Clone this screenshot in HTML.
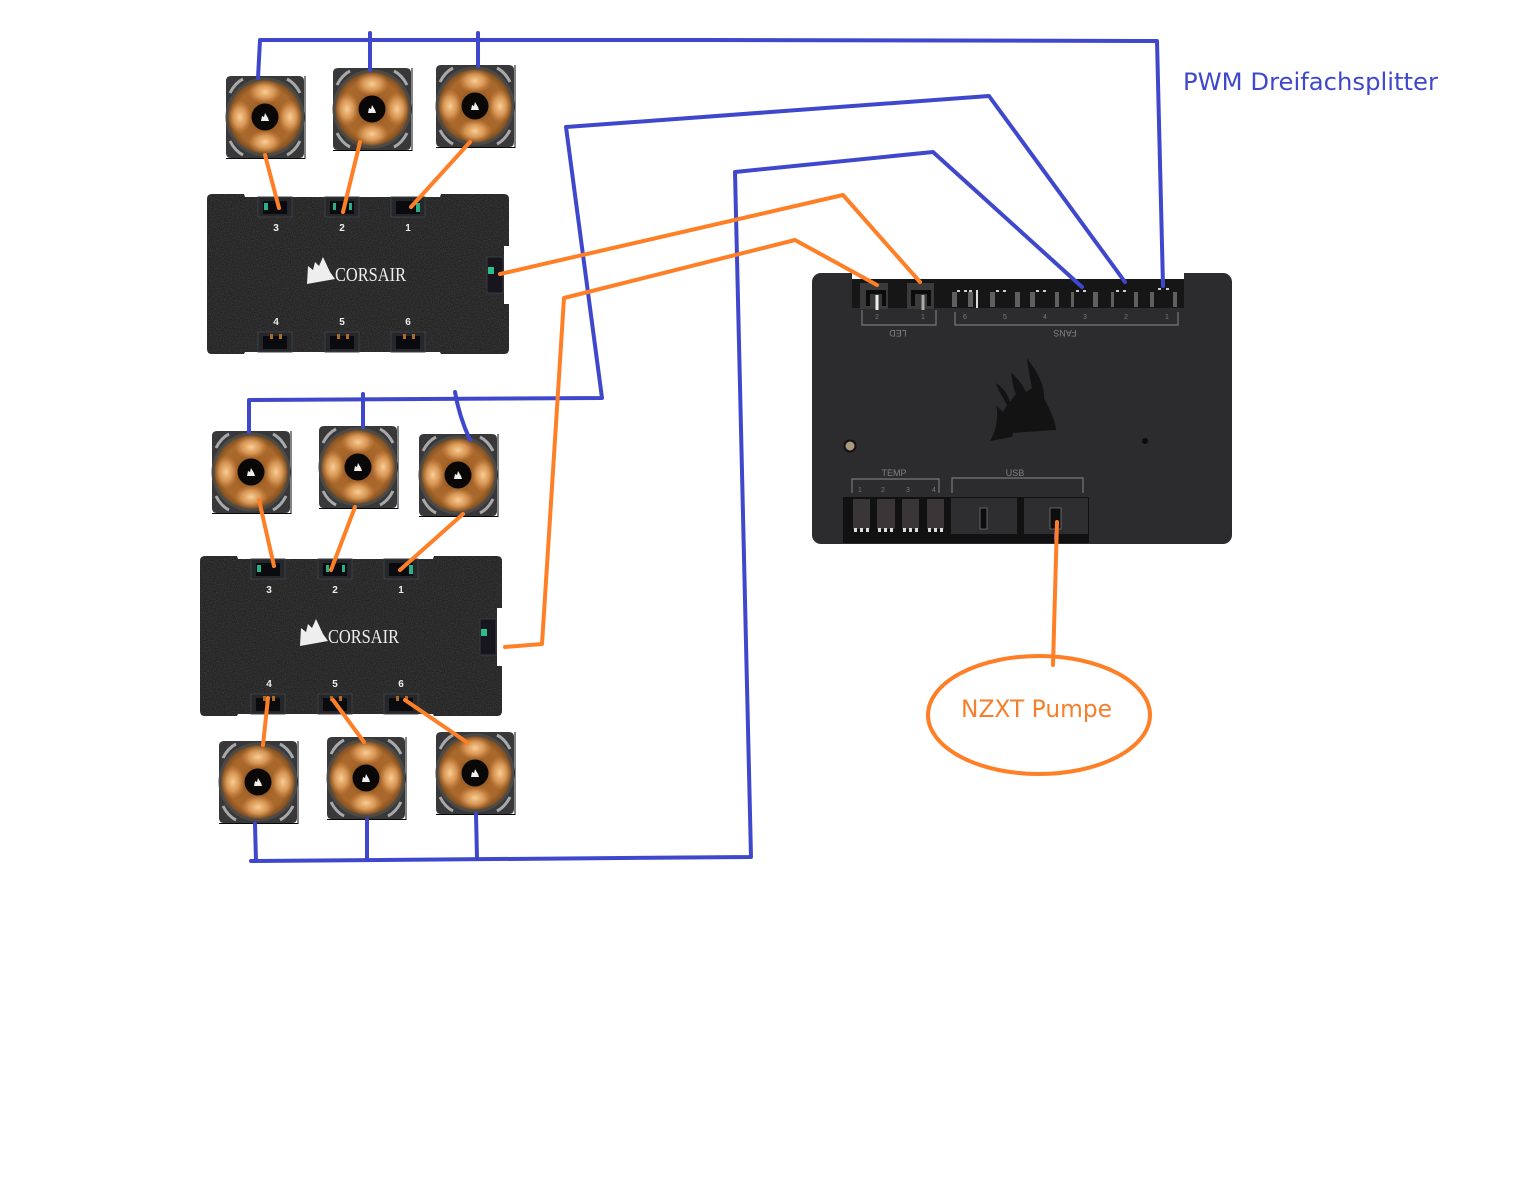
<!DOCTYPE html>
<html><head><meta charset="utf-8"><title>Diagram</title>
<style>html,body{margin:0;padding:0;background:#fff;width:1536px;height:1200px;overflow:hidden}svg{display:block}text{font-family:"Liberation Sans",sans-serif}</style></head>
<body>
<svg width="1536" height="1200" viewBox="0 0 1536 1200" xmlns="http://www.w3.org/2000/svg">
<defs>
<radialGradient id="ring" cx="50%" cy="50%" r="50%">
<stop offset="0" stop-color="#7d4a1c"/><stop offset=".5" stop-color="#a8662a"/><stop offset=".8" stop-color="#a9682c"/><stop offset=".95" stop-color="#875423"/><stop offset="1" stop-color="#604a36"/>
</radialGradient>
<radialGradient id="blade" cx="50%" cy="50%" r="50%">
<stop offset="0" stop-color="#fbcf98" stop-opacity="1"/><stop offset=".55" stop-color="#f0b06c" stop-opacity=".65"/><stop offset="1" stop-color="#d98f48" stop-opacity="0"/>
</radialGradient>
<filter id="grain" x="0" y="0" width="100%" height="100%">
<feTurbulence type="fractalNoise" baseFrequency="1.1" numOctaves="1" seed="3"/>
<feColorMatrix values="0 0 0 0 .22  0 0 0 0 .22  0 0 0 0 .22  0 0 0 .7 -.28"/>
<feComposite in2="SourceGraphic" operator="in"/>
</filter>
<g id="fan">
<path d="M-34-41H34Q39-41 39-36V36Q39 41 34 41H-34Q-39 41-39 36V-36Q-39-41-34-41Z" fill="#38383a"/>
<path d="M-39 41.500H40V-41" fill="none" stroke="#0a0a0a" stroke-width="1"/>
<path d="M-35-24Q-30-34-22-38M35-24Q30-34 22-38M-35 24Q-30 34-22 38M35 24Q30 34 22 38" fill="none" stroke="#a9a9a9" stroke-width="3"/>
<circle r="39.500" fill="#4c4a46"/>
<circle r="37" fill="url(#ring)"/>
<ellipse cx="0" cy="-25" rx="17" ry="12" fill="url(#blade)"/>
<ellipse cx="0" cy="25" rx="17" ry="12" fill="url(#blade)"/>
<ellipse cx="-25" cy="0" rx="12" ry="17" fill="url(#blade)"/>
<ellipse cx="25" cy="0" rx="12" ry="17" fill="url(#blade)"/>
<circle r="13.500" fill="#0a0807"/>
<path d="M-4 4L-3-1L-1 0L0-4L3 1L4 4Z" fill="#eee"/>
</g>
<g id="port">
<rect x="-17" y="-10" width="34" height="20" fill="#26272b" stroke="#3d3f42"/>
<rect x="-12" y="-6" width="24" height="13" fill="#0a0b0f"/>
</g>
<path id="hubshape" d="M5 0H37L38 3H233L234 0H297Q302 0 302 5V52H297V110H302V155Q302 160 297 160H234L233 158H38L37 160H5Q0 160 0 155V5Q0 0 5 0Z"/>
<g id="hub">
<use href="#hubshape" fill="#252526"/>
<use href="#hubshape" fill="#252526" filter="url(#grain)"/>
<rect x="280" y="63" width="16" height="36" fill="#17161e" stroke="#3a3a40"/>
<rect x="281" y="73" width="6" height="7" fill="#28c088"/>
<use href="#port" x="68" y="13"/><use href="#port" x="135" y="13"/><use href="#port" x="201" y="13"/>
<use href="#port" x="68" y="148"/><use href="#port" x="135" y="148"/><use href="#port" x="201" y="148"/>
<rect x="57" y="9" width="4" height="7" fill="#28b088"/><rect x="126" y="9" width="3" height="7" fill="#28b088"/><rect x="142" y="9" width="3" height="7" fill="#28b088"/><rect x="209" y="9" width="4" height="9" fill="#28b088"/>
<rect x="63" y="140" width="3" height="5" fill="#b06a20"/><rect x="72" y="140" width="3" height="5" fill="#b06a20"/><rect x="130" y="140" width="3" height="5" fill="#b06a20"/><rect x="139" y="140" width="3" height="5" fill="#b06a20"/><rect x="196" y="140" width="3" height="5" fill="#b06a20"/><rect x="205" y="140" width="3" height="5" fill="#b06a20"/>
<g fill="#eee" font-size="10" font-weight="700" text-anchor="middle">
<text x="69" y="37">3</text><text x="135" y="37">2</text><text x="201" y="37">1</text>
<text x="69" y="131">4</text><text x="135" y="131">5</text><text x="201" y="131">6</text>
</g>
<path d="M100 90L101 72L106 76L108 68L112 72L116 63L123 78L128 85Z" fill="#eee"/>
<text x="128" y="87" fill="#eee" font-size="20" style="font-family:'Liberation Serif',serif" textLength="71" lengthAdjust="spacingAndGlyphs">CORSAIR</text>
</g>
</defs>

<use href="#hub" x="207" y="194"/>
<use href="#hub" x="200" y="556"/>

<use href="#fan" x="265" y="117"/><use href="#fan" x="372" y="109"/><use href="#fan" x="475" y="106"/>
<use href="#fan" x="251" y="472"/><use href="#fan" x="358" y="467"/><use href="#fan" x="458" y="475"/>
<use href="#fan" x="258" y="782"/><use href="#fan" x="366" y="778"/><use href="#fan" x="475" y="773"/>

<!-- Controller -->
<rect x="812" y="273" width="420" height="271" rx="9" fill="#2c2c2e"/>
<rect x="852" y="272" width="332" height="7" fill="#fff"/>
<rect x="852" y="279" width="332" height="29" fill="#161617"/>
<rect x="860" y="283" width="28" height="26" fill="#3a3a3b"/><rect x="907" y="283" width="27" height="26" fill="#3a3a3b"/>
<path d="M868 306V292H884V306M913 306V292H929V306" fill="none" stroke="#0c0c0c" stroke-width="4"/>
<path d="M877 295V310" stroke="#eee" stroke-width="3"/><path d="M923 295V310" stroke="#aaa" stroke-width="3"/>
<g fill="#5f5f60">
<rect x="952" y="292" width="5" height="15"/><rect x="968" y="292" width="5" height="15"/><rect x="990" y="292" width="5" height="15"/><rect x="1015" y="292" width="5" height="15"/><rect x="1030" y="292" width="5" height="15"/><rect x="1055" y="292" width="4" height="15"/><rect x="1071" y="292" width="3" height="15"/><rect x="1093" y="292" width="5" height="15"/><rect x="1111" y="292" width="3" height="15"/><rect x="1134" y="292" width="4" height="15"/><rect x="1150" y="292" width="4" height="15"/><rect x="1173" y="292" width="4" height="15"/>
</g>
<rect x="976" y="290" width="2" height="18" fill="#ddd"/>
<path d="M957 291h3M964 291h3M969 291h3M996 291h3M1003 291h3M1036 291h3M1043 291h3M1076 291h3M1083 291h3M1116 291h3M1123 291h3M1158 289h3M1166 289h3" stroke="#ccc" stroke-width="2"/>
<path d="M862 310V325H936V310M955 312V325H1178V312M852 493V479H939V493M952 493V478H1083V493" fill="none" stroke="#77777a" stroke-width="1.200"/>
<g fill="#808083" font-size="9" text-anchor="middle">
<text x="898" y="336" transform="rotate(180 898 333)">LED</text>
<text x="1065" y="336" transform="rotate(180 1065 333)">FANS</text>
<text x="894" y="476">TEMP</text><text x="1015" y="476">USB</text>
</g>
<g fill="#77777a" font-size="7" text-anchor="middle">
<text x="877" y="319">2</text><text x="923" y="319">1</text>
<text x="965" y="319">6</text><text x="1005" y="319">5</text><text x="1045" y="319">4</text><text x="1085" y="319">3</text><text x="1126" y="319">2</text><text x="1167" y="319">1</text>
<text x="860" y="492">1</text><text x="883" y="492">2</text><text x="908" y="492">3</text><text x="934" y="492">4</text>
</g>
<path d="M1027 358C1037 372 1045 385 1044 398C1050 410 1056 422 1056 430L1026 432L1013 433L1012 437L990 441C998 428 998 412 996 405L1003 412L1007 405C1002 396 998 390 996 383C1003 388 1008 394 1010 402L1016 394C1013 387 1012 380 1011 373C1018 378 1022 384 1026 392L1032 388C1030 378 1028 368 1027 358Z" fill="#131314"/>
<circle cx="850" cy="446" r="5.500" fill="#a89a80" stroke="#111" stroke-width="2"/>
<circle cx="1145" cy="441" r="3" fill="#0c0c0c"/>
<rect x="843" y="497" width="246" height="46" fill="#111112"/>
<g fill="#3a3638">
<rect x="853" y="499" width="17" height="30"/><rect x="877" y="499" width="18" height="30"/><rect x="902" y="499" width="17" height="30"/><rect x="927" y="499" width="17" height="30"/>
</g>
<path d="M854 530h3M860 530h3M866 530h3M878 530h3M884 530h3M890 530h3M903 530h3M909 530h3M915 530h3M928 530h3M934 530h3M940 530h3" stroke="#ddd" stroke-width="4"/>
<g fill="#2e2e30">
<rect x="951" y="498" width="66" height="36"/><rect x="1024" y="498" width="64" height="36"/>
</g>
<path d="M980 508H987V529H980ZM1050 508H1061V529H1050Z" fill="#0d0d0d" stroke="#777" stroke-width=".8"/>

<g fill="none" stroke="#3f48cc" stroke-width="4" stroke-linecap="round" stroke-linejoin="round">
<path d="M258 78L260 40L710 40L1157 41L1163 286"/>
<path d="M370 33V70M478 33V66"/>
<path d="M1125 282L989 96L566 127L602 398L249 400V432"/>
<path d="M363 394V427M455 392Q459 416 470 440"/>
<path d="M1082 287L933 152L735 172L751 857L251 861"/>
<path d="M255 824L256 861M367 820V860M476 814L477 858"/>
<path d="M1055 533V540" stroke-width="2"/>
</g>
<g fill="none" stroke="#ff7f27" stroke-width="4" stroke-linecap="round" stroke-linejoin="round">
<path d="M265 155L279 208M360 142L343 212M470 142L411 207"/>
<path d="M500 274L843 195L920 282"/>
<path d="M877 285L795 240L564 298L542 644L505 647"/>
<path d="M259 500L274 566M355 507L331 570M463 514L400 570"/>
<path d="M268 698L263 745M333 700L364 742M405 700L468 743"/>
<path d="M1057 522L1053 665"/>
<ellipse cx="1039" cy="715" rx="111" ry="59"/>
</g>
<text x="961" y="717" fill="#f57f2c" font-size="24" style="font-family:'DejaVu Sans',sans-serif" textLength="151" lengthAdjust="spacingAndGlyphs">NZXT Pumpe</text>
<text x="1183" y="90" fill="#3f48cc" font-size="24" style="font-family:'DejaVu Sans',sans-serif" textLength="255" lengthAdjust="spacingAndGlyphs">PWM Dreifachsplitter</text>
</svg>
</body></html>
